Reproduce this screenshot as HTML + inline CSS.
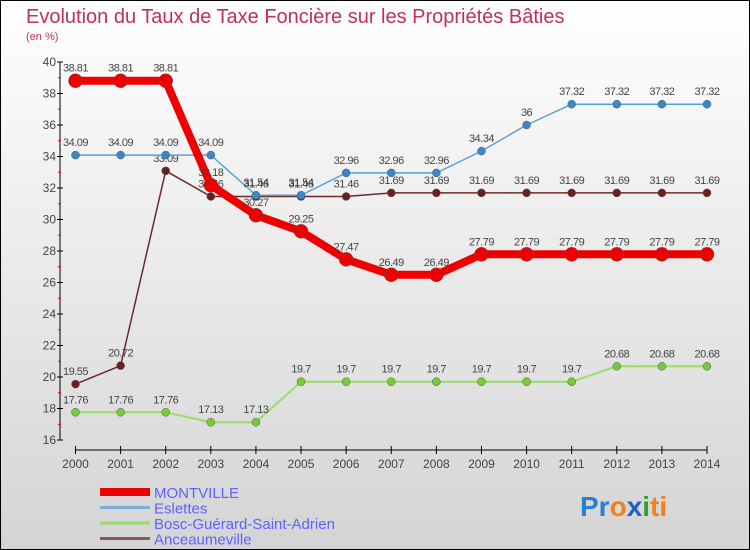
<!DOCTYPE html>
<html><head><meta charset="utf-8"><style>
body{margin:0}
#wrap{width:750px;height:550px;position:relative;overflow:hidden;font-family:"Liberation Sans",sans-serif}
</style></head><body>
<div id="wrap">
<svg id="svg" width="750" height="550" xmlns="http://www.w3.org/2000/svg">
<defs><linearGradient id="bg" x1="0" y1="0" x2="0" y2="1"><stop offset="0" stop-color="#ffffff"/><stop offset="1" stop-color="#d4d4d4"/></linearGradient></defs>
<rect x="0.5" y="0.5" width="749" height="549" fill="url(#bg)" stroke="#000"/>
<text x="26" y="23" font-size="20" fill="#c0305a">Evolution du Taux de Taxe Foncière sur les Propriétés Bâties</text>
<text x="26" y="40" font-size="11" fill="#c0305a">(en %)</text>
<g id="axes"></g><g id="series"></g><g id="legend"></g>
<text x="580" y="516" font-size="28" font-weight="bold"><tspan fill="#2a7fd0">Pr</tspan><tspan fill="#f08020">o</tspan><tspan fill="#2060c0">x</tspan><tspan fill="#30a030">i</tspan><tspan fill="#f08020">ti</tspan></text>
</svg></div>
<script>
const years=[2000,2001,2002,2003,2004,2005,2006,2007,2008,2009,2010,2011,2012,2013,2014];
const yTicks=[16,18,20,22,24,26,28,30,32,34,36,38,40];
const montville=[38.81,38.81,38.81,32.18,30.27,29.25,27.47,26.49,26.49,27.79,27.79,27.79,27.79,27.79,27.79];
const eslettes=[34.09,34.09,34.09,34.09,31.54,31.54,32.96,32.96,32.96,34.34,36,37.32,37.32,37.32,37.32];
const bosc=[17.76,17.76,17.76,17.13,17.13,19.7,19.7,19.7,19.7,19.7,19.7,19.7,20.68,20.68,20.68];
const ancea=[19.55,20.72,33.09,31.46,31.46,31.46,31.46,31.69,31.69,31.69,31.69,31.69,31.69,31.69,31.69];
const names=["MONTVILLE","Eslettes","Bosc-Guérard-Saint-Adrien","Anceaumeville"];
const NS="http://www.w3.org/2000/svg";
const X=i=>75.5+i*(707-75.5)/(years.length-1);
const Y=v=>440-(v-16)*(440-62)/24;
function mk(p,t,a){const e=document.createElementNS(NS,t);for(const k in a)e.setAttribute(k,a[k]);p.appendChild(e);return e;}
const ax=document.getElementById('axes');
let l=mk(ax,'line',{x1:60,y1:Y(16),x2:60,y2:Y(40),stroke:'#000'});


l=mk(ax,'line',{x1:X(0),y1:450,x2:X(14),y2:450,stroke:'#000'});


yTicks.forEach((v,i)=>{mk(ax,'line',{x1:57,y1:Y(v),x2:63,y2:Y(v),stroke:'#000'});
if(i<yTicks.length-1)mk(ax,'line',{x1:58,y1:Y(v+1),x2:61,y2:Y(v+1),stroke:'#e00'});
const t=mk(ax,'text',{x:56,y:Y(v)+4,'font-size':12,fill:'#444','text-anchor':'end'});t.textContent=v;

});
years.forEach((y,i)=>{mk(ax,'line',{x1:X(i),y1:446,x2:X(i),y2:454,stroke:'#000'});
const t=mk(ax,'text',{x:X(i),y:468,'font-size':12,fill:'#444','text-anchor':'middle'});t.textContent=y;

});
const sg=document.getElementById('series');
function series(d,col,w,r,dot,nm){const g=mk(sg,'g',{});


mk(g,'polyline',{points:d.map((v,i)=>X(i)+','+Y(v)).join(' '),fill:'none',stroke:col,'stroke-width':w});
d.forEach((v,i)=>{const c=mk(g,'circle',{cx:X(i),cy:Y(v),r:r,fill:dot,stroke:'#555','stroke-width':0.5});


const t=mk(g,'text',{x:X(i),y:Y(v)-9,'font-size':11,fill:'#444','text-anchor':'middle','letter-spacing':'-0.5'});t.textContent=v;});}
series(bosc,'#99dd66',2,4,'#77cc33','series-bosc');
series(ancea,'#6b2a2a',1.5,4,'#6b2020','series-anceaumeville');
series(eslettes,'#5aa0d8',1.5,4,'#3a88c8','series-eslettes');
series(montville,'#ee0000',8,7,'#ee0000','series-montville');
const lg=document.getElementById('legend');
const cols=['#ee0000','#7aaed8','#99dd66','#8a5a5a'],ws=[8,3,3,3];
names.forEach((n,i)=>{const yy=492+i*15.5;const g=mk(lg,'g',{});


mk(g,'line',{x1:100,y1:yy,x2:150,y2:yy,stroke:cols[i],'stroke-width':ws[i]});
const t=mk(g,'text',{x:154,y:yy+6,'font-size':15,fill:'#6060ff'});t.textContent=n;});
</script></body></html>
